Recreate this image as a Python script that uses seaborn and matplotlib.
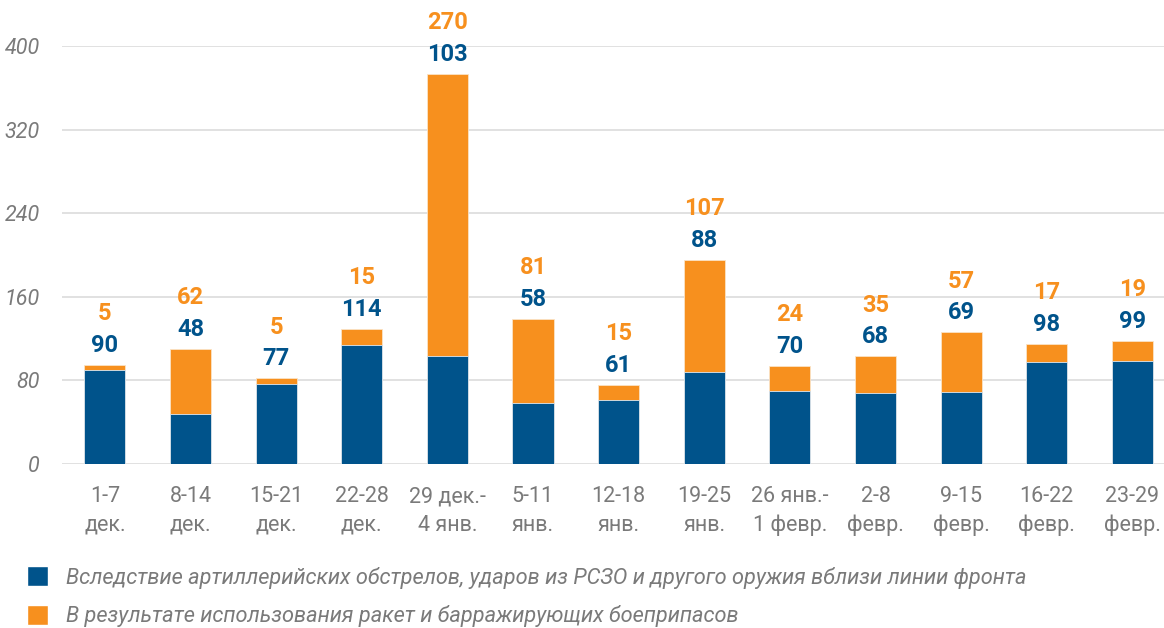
import numpy as np
import pandas as pd
import matplotlib
matplotlib.use('Agg')
import matplotlib.pyplot as plt
import seaborn as sns
from matplotlib.patches import Patch

# данные
weeks = ['1-7\nдек.', '8-14\nдек.', '15-21\nдек.', '22-28\nдек.', '29 дек.-\n4 янв.',
         '5-11\nянв.', '12-18\nянв.', '19-25\nянв.', '26 янв.-\n1 февр.', '2-8\nфевр.',
         '9-15\nфевр.', '16-22\nфевр.', '23-29\nфевр.']
artillery = [90, 48, 77, 114, 103, 58, 61, 88, 70, 68, 69, 98, 99]
missiles = [5, 62, 5, 15, 270, 81, 15, 107, 24, 35, 57, 17, 19]
y_ticks = [0, 80, 160, 240, 320, 400]
legend_labels = ['Вследствие артиллерийских обстрелов, ударов из РСЗО и другого оружия вблизи линии фронта',
                 'В результате использования ракет и барражирующих боеприпасов']

BLUE = '#00538b'
ORANGE = '#f7901e'
GRAY = '#7a7a7a'

sns.set_theme(style='white')
plt.rcParams['font.family'] = ['Roboto', 'DejaVu Sans']

df = pd.DataFrame({'week': weeks, 'art': artillery, 'mis': missiles})
df['total'] = df['art'] + df['mis']

fig = plt.figure(figsize=(11.64, 6.28), dpi=100)
ax = fig.add_axes([0.0533, 0.261, 0.9467, 0.6657])

sns.barplot(data=df, x='week', y='total', color=ORANGE, width=0.48, saturation=1,
            edgecolor='#fbe3c6', linewidth=0.6, ax=ax, zorder=3)
sns.barplot(data=df, x='week', y='art', color=BLUE, width=0.48, saturation=1,
            edgecolor='#dfe8f0', linewidth=0.6, ax=ax, zorder=4)

# подписи значений
for i, row in df.iterrows():
    ax.annotate(str(row['art']), (i, row['total']), xytext=(0, 14), textcoords='offset points',
                ha='center', va='center', color=BLUE, fontsize=17, fontweight='bold',
                annotation_clip=False)
    ax.annotate(str(row['mis']), (i, row['total']), xytext=(0, 37), textcoords='offset points',
                ha='center', va='center', color=ORANGE, fontsize=17, fontweight='bold',
                annotation_clip=False)

ax.set_ylim(0, 400)
ax.set_xlim(-0.5, 12.37)
ax.set_yticks(y_ticks)
ax.set_yticklabels([str(t) for t in y_ticks], fontstyle='italic', color=GRAY, fontsize=15.5)
ax.tick_params(axis='x', colors=GRAY, labelsize=15.5, length=0, pad=16)
ax.tick_params(axis='y', length=0, pad=16)
for lbl in ax.get_xticklabels():
    lbl.set_linespacing(1.45)
ax.yaxis.grid(True, color='#dcdcdc', linewidth=1.2, zorder=0)
ax.set_axisbelow(True)
ax.set_xlabel('')
ax.set_ylabel('')
for s in ax.spines.values():
    s.set_visible(False)

handles = [Patch(facecolor=BLUE, label=legend_labels[0]),
           Patch(facecolor=ORANGE, label=legend_labels[1])]
leg = fig.legend(handles=handles, loc='lower left', bbox_to_anchor=(0.006, -0.03),
                 frameon=False, handlelength=1.0, handleheight=1.0, handletextpad=0.8,
                 labelspacing=0.75, prop={'style': 'italic', 'size': 15.7})
for t in leg.get_texts():
    t.set_color(GRAY)

plt.savefig('out.png', dpi=100)
